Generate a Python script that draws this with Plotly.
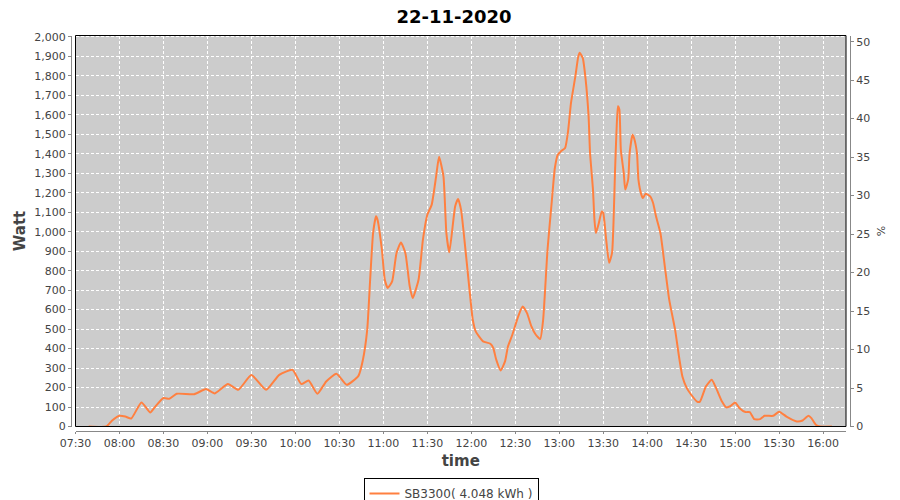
import plotly.graph_objects as go

DAY = "2020-11-22 "
times = ["07:39", "07:51", "07:55", "08:00", "08:04", "08:08", "08:15", "08:21", "08:24", "08:30",
         "08:34", "08:39", "08:51", "08:59", "09:05", "09:14", "09:21", "09:30", "09:40", "09:49",
         "09:58", "10:04", "10:09", "10:15", "10:21", "10:28", "10:35", "10:43", "10:46", "10:49",
         "10:51", "10:53", "10:55", "10:56", "10:59", "11:01", "11:03", "11:06", "11:09", "11:12",
         "11:15", "11:18", "11:20", "11:24", "11:27", "11:30", "11:33", "11:36", "11:38", "11:41",
         "11:43", "11:45", "11:49", "11:51", "11:53", "11:56", "11:59", "12:01", "12:03", "12:08",
         "12:13", "12:15", "12:17", "12:20", "12:23", "12:25", "12:28", "12:32", "12:35", "12:38",
         "12:41", "12:44", "12:47", "12:49", "12:52", "12:55", "12:57", "12:59", "13:01", "13:04",
         "13:06", "13:08", "13:11", "13:13", "13:14", "13:16", "13:18", "13:20", "13:21", "13:23",
         "13:24", "13:25", "13:27", "13:29", "13:30", "13:32", "13:34", "13:36", "13:37", "13:38",
         "13:39", "13:40", "13:41", "13:42", "13:44", "13:45", "13:47", "13:48", "13:50", "13:51",
         "13:53", "13:54", "13:56", "13:57", "13:59", "14:02", "14:04", "14:06", "14:09", "14:12",
         "14:15", "14:19", "14:22", "14:24", "14:27", "14:30", "14:34", "14:36", "14:40", "14:44",
         "14:47", "14:51", "14:54", "14:57", "15:00", "15:03", "15:07", "15:10", "15:13", "15:17",
         "15:20", "15:26", "15:30", "15:35", "15:42", "15:46", "15:50", "15:52", "15:55", "15:58",
         "16:06"]
watts = [0, 0, 31, 55, 51, 41, 123, 72, 98, 146,
         142, 168, 166, 192, 170, 218, 188, 264, 188, 265,
         291, 218, 236, 168, 231, 271, 214, 260, 340, 497,
         753, 993, 1079, 1062, 908, 753, 711, 745, 891, 945,
         891, 719, 659, 753, 959, 1087, 1139, 1284, 1384, 1284,
         993, 894, 1130, 1168, 1113, 908, 685, 548, 488, 437,
         425, 403, 343, 288, 334, 411, 471, 565, 616, 582,
         514, 471, 449, 548, 908, 1164, 1327, 1395, 1412, 1430,
         1515, 1661, 1798, 1900, 1918, 1892, 1781, 1592, 1404, 1216,
         1062, 993, 1045, 1104, 1096, 959, 840, 891, 1045, 1301,
         1507, 1644, 1627, 1421, 1301, 1216, 1267, 1404, 1498, 1481,
         1404, 1267, 1190, 1173, 1195, 1181, 1147, 1079, 993, 822,
         651, 497, 343, 257, 197, 163, 128, 128, 205, 240,
         197, 128, 98, 106, 123, 94, 74, 74, 38, 38,
         55, 55, 76, 51, 26, 31, 55, 43, 9, 0,
         0]

series_name = "SB3300( 4.048 kWh )"
chart_title = "22-11-2020"

x_vals = [DAY + t for t in times]

FONT = "DejaVu Sans"
TXT = "#444444"
AX = "#888888"

# page body has an 8px margin, so the figure is laid out 8px up/left of the window
W, H = 892, 492
XD = [67.5 / W, 838 / W]
YD = [(H - 418.5) / H, (H - 27.5) / H]

fig = go.Figure()
fig.add_trace(go.Scatter(x=x_vals, y=watts, mode="lines", name=series_name,
                         line=dict(color="rgb(255,128,64)", width=2, shape="spline", smoothing=0.5)))
fig.add_trace(go.Scatter(x=[], y=[], yaxis="y2", showlegend=False, hoverinfo="skip"))

fig.update_layout(
    width=W, height=H,
    margin=dict(l=0, r=0, t=0, b=0, autoexpand=False),
    paper_bgcolor="white",
    plot_bgcolor="#cccccc",
    font=dict(family=FONT, size=11, color=TXT),
    title=dict(text=chart_title, x=0.5, xanchor="center", y=1.0, yanchor="top",
               pad=dict(t=2), yref="container",
               font=dict(family=FONT, size=18, color="black", weight="bold")),
    showlegend=True,
    legend=dict(orientation="h", x=443 / W, xanchor="center", y=(H - 470) / H, yanchor="top",
                bordercolor="black", borderwidth=1, bgcolor="white", itemwidth=30,
                font=dict(family=FONT, size=12, color=TXT)),
    xaxis=dict(
        type="date", domain=XD, anchor="free", position=(H - 422.7) / H,
        range=[DAY + "07:30", DAY + "16:15:36"],
        tick0=DAY + "07:30", dtick=30 * 60 * 1000, tickformat="%H:%M",
        showgrid=True, gridcolor="white", griddash="3px,2px", gridwidth=1,
        showline=True, linecolor=AX, linewidth=1,
        ticks="outside", ticklen=2, tickcolor=AX,
        tickfont=dict(family=FONT, size=11, color=TXT),
        title=dict(text="time", font=dict(family=FONT, size=15, color=TXT, weight="bold"), standoff=6),
        zeroline=False, automargin=False,
    ),
    yaxis=dict(
        domain=YD, anchor="free", position=63 / W,
        range=[0, 2007], dtick=100, tickformat=",d",
        showgrid=True, gridcolor="white", griddash="3px,2px", gridwidth=1,
        showline=True, linecolor=AX, linewidth=1,
        ticks="outside", ticklen=3, tickcolor=AX,
        tickfont=dict(family=FONT, size=11, color=TXT),
        title=dict(text="Watt", font=dict(family=FONT, size=15, color=TXT, weight="bold"), standoff=4),
        zeroline=False, automargin=False,
    ),
    yaxis2=dict(
        overlaying="y", side="right", anchor="free", position=842 / W,
        range=[0, 50.8], dtick=5,
        showgrid=False,
        showline=True, linecolor=AX, linewidth=1,
        ticks="outside", ticklen=3, tickcolor=AX,
        tickfont=dict(family=FONT, size=11, color=TXT),
        title=dict(text="%", font=dict(family=FONT, size=11, color=TXT), standoff=8),
        zeroline=False, automargin=False,
    ),
)

fig.add_shape(type="rect", xref="x domain", yref="y domain", x0=0, x1=1, y0=0, y1=1,
              line=dict(color="black", width=1), fillcolor="rgba(0,0,0,0)", layer="above")

fig.write_html("out.html")
